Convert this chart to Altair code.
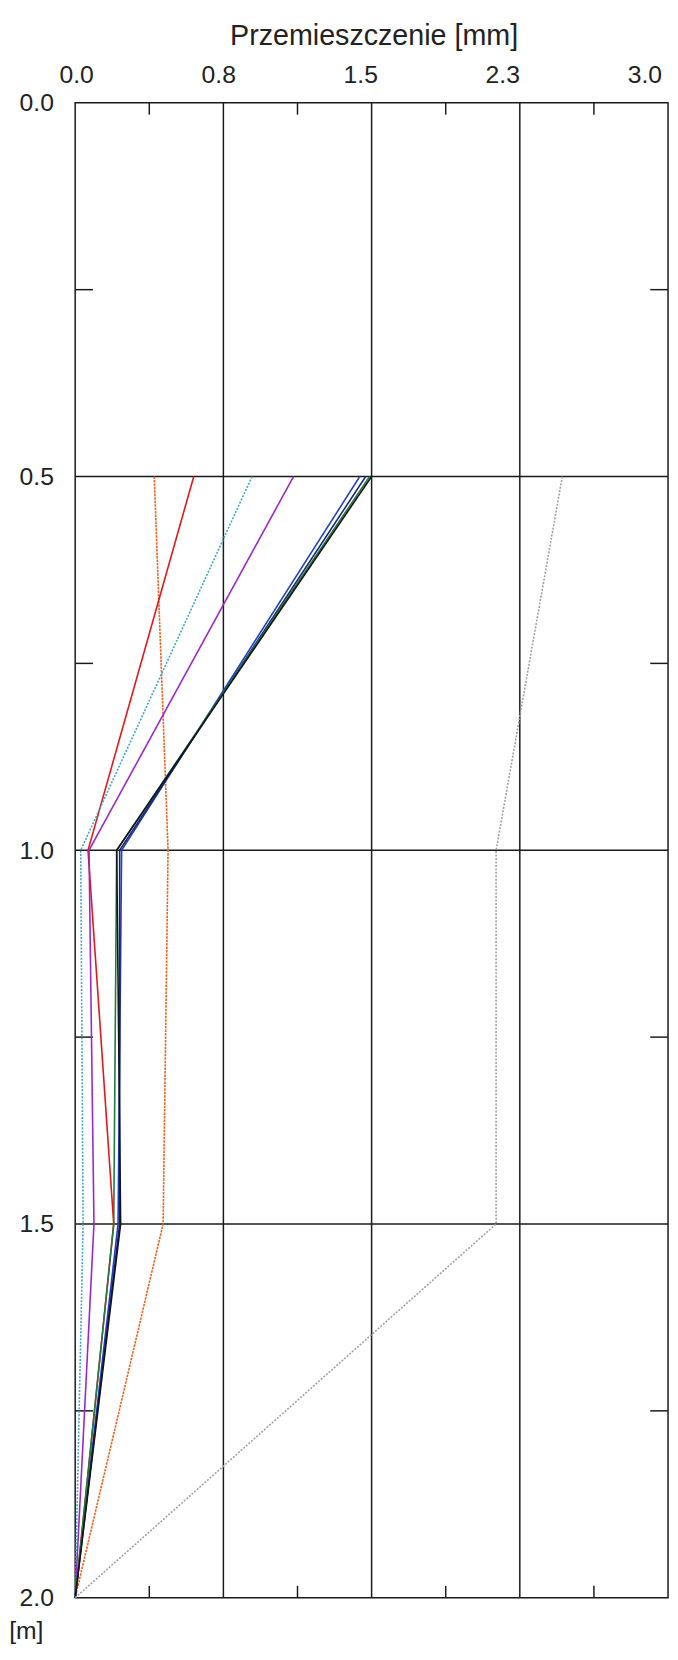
import altair as alt
import pandas as pd

# ---- data ----
depths = [0.5, 1.0, 1.5, 2.0]                    # [m]
series_names = ["s1", "s2", "s3", "s4", "s5", "s6", "s7", "s8", "s9"]
s1_orange = [0.40, 0.47, 0.445, 0.0]
s2_red = [0.60, 0.065, 0.195, 0.0]
s3_cyan = [0.895, 0.028, 0.04, 0.0]
s4_purple = [1.105, 0.07, 0.095, 0.0]
s5_blue = [1.44, 0.235, 0.217, 0.0]
s6_navy = [1.47, 0.225, 0.225, 0.0]
s7_green = [1.49, 0.21, 0.195, 0.0]
s8_black = [1.50, 0.21, 0.23, 0.0]
s9_grey = [2.465, 2.13, 2.13, 0.0]
series_values = [s1_orange, s2_red, s3_cyan, s4_purple, s5_blue,
                 s6_navy, s7_green, s8_black, s9_grey]

x_ticks = [0.0, 0.75, 1.5, 2.25, 3.0]
y_ticks = [0.0, 0.5, 1.0, 1.5, 2.0]
x_minor = [0.375, 1.125, 1.875, 2.625]
y_minor = [0.25, 0.75, 1.25, 1.75]

# ---- styles ----
colors = ["#f0601e", "#e3161b", "#3ca6c6", "#9b27c9", "#1f3fc4",
          "#1a237e", "#1f7a3c", "#141414", "#a0a0a0"]
dashes = [[2.5, 1], [1, 0], [2, 1.5], [1, 0], [1, 0],
          [1, 0], [1, 0], [1, 0], [2, 1.5]]
FONT = "Liberation Sans"
W, H = 600, 1513
LINE = "#1a1a1a"

rows = []
for name, vals in zip(series_names, series_values):
    for d, v in zip(depths, vals):
        rows.append({"series": name, "depth": d, "disp": v})
df = pd.DataFrame(rows)

xs = alt.Scale(domain=[0, 3], nice=False, zero=False)
ys = alt.Scale(domain=[0, 2], nice=False, reverse=True)

yaxis = alt.Axis(
    values=y_ticks, format=".1f", labelFont=FONT, labelFontSize=25,
    labelColor="#222", labelPadding=22, ticks=False, tickSize=0,
    domain=False, grid=False, labelFlush=False,
    title="[m]", titleAngle=0, titleX=-50, titleY=H + 33,
    titleAlign="center", titleBaseline="middle", titleFont=FONT,
    titleFontSize=25, titleFontWeight="normal", titleColor="#222")

vgrid = alt.Chart(pd.DataFrame({"g": x_ticks[1:-1]})).mark_rule(
    color=LINE, strokeWidth=1.5).encode(
    x=alt.X("g:Q", scale=xs, axis=None), y=alt.value(0), y2=alt.value(H))
hgrid = alt.Chart(pd.DataFrame({"g": y_ticks[1:-1]})).mark_rule(
    color=LINE, strokeWidth=1.5).encode(
    y=alt.Y("g:Q", scale=ys, axis=yaxis), x=alt.value(0), x2=alt.value(W))

xm = pd.DataFrame({"m": x_minor})
ym = pd.DataFrame({"m": y_minor})
top_t = alt.Chart(xm).mark_rule(color=LINE, strokeWidth=1.5).encode(
    x=alt.X("m:Q", scale=xs, axis=None), y=alt.value(0), y2=alt.value(12))
bot_t = alt.Chart(xm).mark_rule(color=LINE, strokeWidth=1.5).encode(
    x=alt.X("m:Q", scale=xs, axis=None), y=alt.value(H - 12), y2=alt.value(H))
left_t = alt.Chart(ym).mark_rule(color=LINE, strokeWidth=1.5).encode(
    y=alt.Y("m:Q", scale=ys, axis=yaxis), x=alt.value(0), x2=alt.value(18))
right_t = alt.Chart(ym).mark_rule(color=LINE, strokeWidth=1.5).encode(
    y=alt.Y("m:Q", scale=ys, axis=yaxis), x=alt.value(W - 18), x2=alt.value(W))

lines = alt.Chart(df).mark_line(strokeWidth=1.6).encode(
    x=alt.X("disp:Q", scale=xs, axis=None),
    y=alt.Y("depth:Q", scale=ys, axis=yaxis),
    color=alt.Color("series:N", scale=alt.Scale(domain=series_names, range=colors), legend=None),
    strokeDash=alt.StrokeDash("series:N", scale=alt.Scale(domain=series_names, range=dashes), legend=None),
    order=alt.Order("depth:Q"),
    detail="series:N",
)

labels = alt.Chart(pd.DataFrame({"v": x_ticks})).mark_point(opacity=0).encode(
    x=alt.X("v:Q", scale=alt.Scale(domain=[0, 3], nice=False, zero=False, range=[1, 576]),
            axis=alt.Axis(
                orient="top", values=x_ticks, format=".1f", labelFont=FONT,
                labelFontSize=25, labelColor="#222", labelPadding=21,
                labelBaseline="alphabetic", labelFlush=False,
                ticks=False, tickSize=0, domain=False, grid=False,
                title="Przemieszczenie [mm]", titleX=302, titleY=-59,
                titleAlign="center", titleBaseline="alphabetic", titleFont=FONT,
                titleFontSize=29, titleFontWeight="normal", titleColor="#222")),
)

chart = alt.layer(vgrid, hgrid, top_t, bot_t, left_t, right_t, lines, labels).resolve_scale(
    x="independent"
).properties(
    width=W, height=H,
    autosize=alt.AutoSizeParams(type="none"),
    padding={"left": 68, "top": 86, "right": 2, "bottom": 45},
).configure_view(stroke=LINE, strokeWidth=1.5)

chart.save("out.html", embed_options={"renderer": "svg", "actions": False})
